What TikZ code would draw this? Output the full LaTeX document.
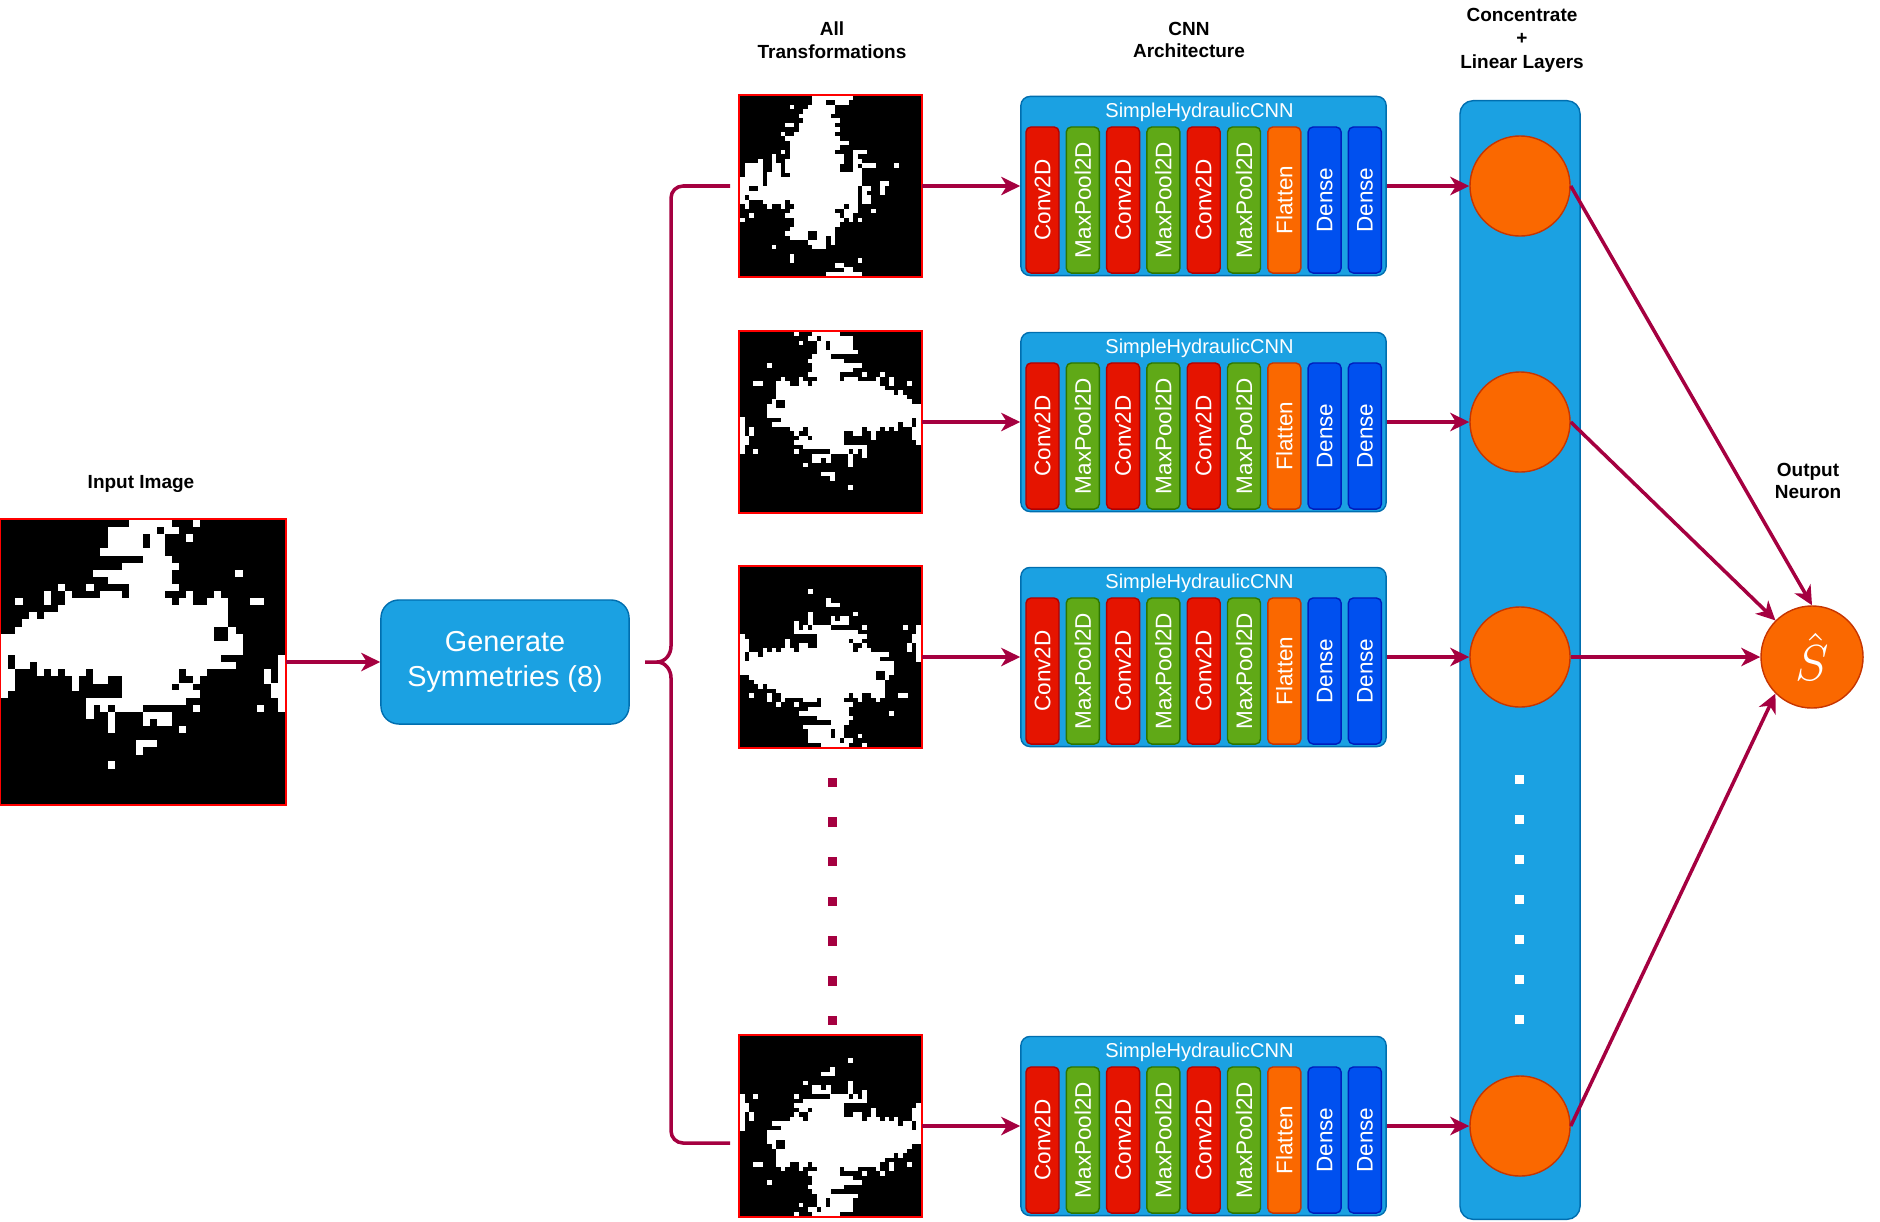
\documentclass[tikz,border=0pt]{standalone}
\usepackage{fontspec}
\setmainfont{Liberation Sans}
\usepackage{tikz}
\usetikzlibrary{arrows.meta}
\definecolor{flowred}{HTML}{A50040}
\definecolor{boxblue}{HTML}{1BA1E2}
\definecolor{boxedge}{HTML}{006EAF}
\definecolor{convfill}{HTML}{E51400}
\definecolor{convedge}{HTML}{B20000}
\definecolor{poolfill}{HTML}{60A917}
\definecolor{pooledge}{HTML}{2D7600}
\definecolor{flatfill}{HTML}{FA6800}
\definecolor{flatedge}{HTML}{C73500}
\definecolor{densefill}{HTML}{0050EF}
\definecolor{denseedge}{HTML}{001DBC}

% white cells of the 40x40 binary image (row/first col/last col)
\newcommand{\pixblob}{%
  \foreach \r/\a/\b in {0/18/23, 0/27/27, 1/15/21, 1/23/24, 2/15/19, 2/21/22, 2/26/26,
    3/15/19, 3/21/22, 4/14/22, 5/20/23, 6/17/24, 7/13/23, 7/33/33,
    8/15/23, 9/8/8, 9/12/12, 9/18/24,
    10/6/6, 10/9/9, 10/14/16, 10/18/22, 10/26/26, 10/30/30,
    11/2/2, 11/6/6, 11/9/23, 11/25/26, 11/29/31, 11/35/36,
    12/8/31, 13/4/4, 13/6/31, 14/3/31, 15/2/29, 15/32/32, 16/0/29, 16/32/33,
    17/0/33, 18/0/33, 19/0/0, 19/2/30, 19/39/39,
    20/0/0, 20/2/3, 20/5/31, 20/32/32, 20/39/39,
    21/0/1, 21/5/5, 21/7/7, 21/9/11, 21/13/24, 21/26/28, 21/37/37, 21/39/39,
    22/0/1, 22/10/10, 22/13/14, 22/17/24, 22/27/27, 22/37/37, 22/39/39,
    23/0/1, 23/10/10, 23/17/23, 23/25/26, 23/38/39,
    24/0/0, 24/17/27, 24/38/39,
    25/12/25, 25/39/39,
    26/12/12, 26/14/14, 26/16/19, 26/27/27, 26/36/36, 26/39/39,
    27/12/12, 27/15/15, 27/20/23,
    28/15/15, 28/20/20, 28/22/23,
    29/15/15, 29/25/25,
    31/19/21, 32/19/19, 34/15/15}
    \fill[white] (\a-20,\r-20) rectangle (\b-18.97,\r-18.97);%
}

% one SimpleHydraulicCNN block: #1 name, #2 centre y
\newcommand{\cnnblock}[2]{%
  \node[cnnbox] (#1) at (1203.5,#2) {};
  \node[cnntitle] (#1title) at (1199.5,#2-74) {SimpleHydraulicCNN};
  \foreach \k/\lname/\lstyle in {0/Conv2D/convl, 1/MaxPool2D/pooll, 2/Conv2D/convl,
      3/MaxPool2D/pooll, 4/Conv2D/convl, 5/MaxPool2D/pooll, 6/Flatten/flatl,
      7/Dense/densel, 8/Dense/densel}
    \node[layer, \lstyle] (#1l\k) at (1042.5+40.3*\k,#2+14) {\lname};%
}

\begin{document}
\begin{tikzpicture}[x=0.01cm, y=-0.01cm,
  flow/.style={draw=flowred, line width=1pt, -{Stealth[length=5.4pt,width=5.2pt,inset=1.6pt]}},
  brace/.style={draw=flowred, line width=1pt},
  headtext/.style={font=\bfseries\fontsize{5.4}{6.5}\selectfont, align=center, inner sep=0pt},
  imgframe/.style={fill=black, minimum size=1.81cm, inner sep=0pt},
  genbox/.style={fill=boxblue, draw=boxedge, line width=0.4pt, rounded corners=0.18cm,
    minimum width=2.48cm, minimum height=1.24cm, text=white, align=center,
    font=\fontsize{8.2}{10}\selectfont},
  cnnbox/.style={fill=boxblue, draw=boxedge, line width=0.4pt, rounded corners=0.09cm,
    minimum width=3.65cm, minimum height=1.79cm, inner sep=0pt},
  cnntitle/.style={text=white, inner sep=0pt, font=\fontsize{5.7}{6.5}\selectfont},
  layer/.style={rotate=90, text=white, minimum width=1.46cm, minimum height=0.33cm,
    inner sep=0pt, rounded corners=0.05cm, line width=0.4pt, font=\fontsize{6.4}{7}\selectfont},
  convl/.style={fill=convfill, draw=convedge},
  pooll/.style={fill=poolfill, draw=pooledge},
  flatl/.style={fill=flatfill, draw=flatedge},
  densel/.style={fill=densefill, draw=denseedge},
  bar/.style={fill=boxblue, draw=boxedge, line width=0.4pt, rounded corners=0.13cm,
    minimum width=1.2cm, minimum height=11.18cm, inner sep=0pt},
  neuron/.style={circle, fill=flatfill, draw=flatedge, line width=0.4pt, minimum size=1.0cm, inner sep=0pt},
  outneuron/.style={neuron, minimum size=1.02cm, text=white, font=\fontsize{14}{16}\selectfont}]
\useasboundingbox (0,0) rectangle (1880,1221);

% headings
\node[headtext] (inlabel) at (141,484) {Input Image};
\node[headtext] (translabel) at (832,40) {All\\Transformations};
\node[headtext] (cnnlabel) at (1189,40) {CNN\\Architecture};
\node[headtext, font=\bfseries\fontsize{5.4}{6.7}\selectfont] (linlabel) at (1522,40) {Concentrate\\+\\Linear Layers};
\node[headtext] (outlabel) at (1808,481) {Output\\Neuron};

% input image
\node[imgframe, minimum size=2.84cm] (inimg) at (143,662) {};
\begin{scope}[shift={(143,662)}, scale=7.1]
  \pixblob
\end{scope}
\draw[red, line width=0.6pt] (inimg.south west) rectangle (inimg.north east);

\node[genbox] (gen) at (505,662) {Generate\\Symmetries (8)};
\draw[flow] (inimg.east) -- (gen.west);

% brace to the transformed images
\coordinate (cusp) at (645,662);
\draw[brace] (730,186) -- (683,186) to[out=180,in=90] (671,198) -- (671,646)
  to[out=-90,in=0] (657,662) -- (cusp);
\draw[brace] (730,1143) -- (683,1143) to[out=180,in=-90] (671,1131) -- (671,678)
  to[out=90,in=0] (657,662);

% transformed images
\node[imgframe] (img1) at (830.5,186) {};
\begin{scope}[shift={(830.5,186)}, cm={0,-1,-1,0,(0,0)}, scale=4.525]
  \pixblob
\end{scope}
\draw[red, line width=0.6pt] (img1.south west) rectangle (img1.north east);
\node[imgframe] (img2) at (830.5,422) {};
\begin{scope}[shift={(830.5,422)}, xscale=-1, scale=4.525]
  \pixblob
\end{scope}
\draw[red, line width=0.6pt] (img2.south west) rectangle (img2.north east);
\node[imgframe] (img3) at (830.5,657) {};
\begin{scope}[shift={(830.5,657)}, yscale=-1, scale=4.525]
  \pixblob
\end{scope}
\draw[red, line width=0.6pt] (img3.south west) rectangle (img3.north east);
\node[imgframe] (img4) at (830.5,1126) {};
\begin{scope}[shift={(830.5,1126)}, rotate=180, scale=4.525]
  \pixblob
\end{scope}
\draw[red, line width=0.6pt] (img4.south west) rectangle (img4.north east);
\foreach \d in {0,...,6}
  \fill[flowred] (827.5,777.5+39.7*\d) rectangle +(9.5,9.5);

% CNN blocks
\cnnblock{cnn1}{186}
\cnnblock{cnn2}{422}
\cnnblock{cnn3}{657}
\cnnblock{cnn4}{1126}

% concentrate + linear layers
\node[bar] (linbar) at (1520,660) {};
\node[neuron] (hid1) at (1520,186) {};
\node[neuron] (hid2) at (1520,422) {};
\node[neuron] (hid3) at (1520,657) {};
\node[neuron] (hid4) at (1520,1126) {};
\foreach \d in {0,...,6}
  \fill[white] (1514.5,774.5+40*\d) rectangle +(9.5,9.5);

\node[outneuron] (out) at (1812,657) {$\hat{S}$};

% connectors
\foreach \i in {1,...,4} {
  \draw[flow] (img\i.east) -- (cnn\i.west);
  \draw[flow] (cnn\i.east) -- (hid\i.west);
}
\draw[flow] (hid1.east) -- (out.north);
\draw[flow] (hid2.east) -- (out.north west);
\draw[flow] (hid3.east) -- (out.west);
\draw[flow] (hid4.east) -- (out.south west);
\end{tikzpicture}
\end{document}
